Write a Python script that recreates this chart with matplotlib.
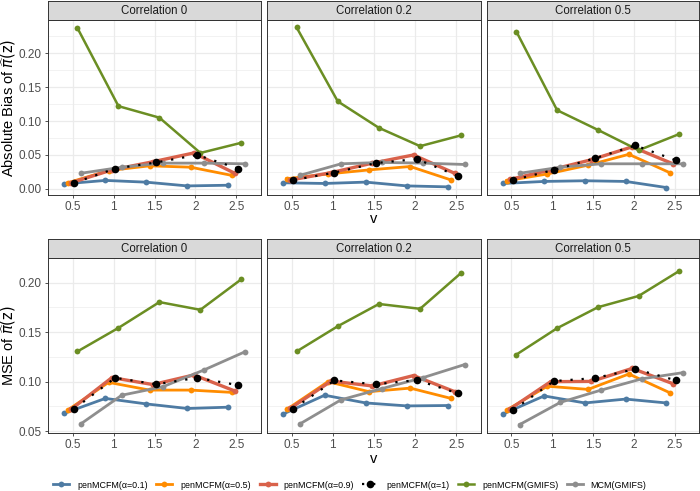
import matplotlib.pyplot as plt
from matplotlib.lines import Line2D
import numpy as np

plt.rcParams['font.family'] = ['Liberation Sans', 'DejaVu Sans']

# --- data ---
v_levels = [0.5, 1, 1.5, 2, 2.5]
v_labels = ["0.5", "1", "1.5", "2", "2.5"]
methods = ["penMCFM(α=0.1)", "penMCFM(α=0.5)", "penMCFM(α=0.9)",
           "penMCFM(α=1)", "penMCFM(GMIFS)", "MCM(GMIFS)"]
correlations = ["Correlation 0", "Correlation 0.2", "Correlation 0.5"]

# rows follow `methods`, columns follow `v_levels`
bias_corr0 = [
    [0.0074, 0.0125, 0.0099, 0.0044, 0.0054],
    [0.009, 0.027, 0.034, 0.032, 0.020],
    [0.009, 0.028, 0.040, 0.053, 0.023],
    [0.009, 0.030, 0.039, 0.050, 0.030],
    [0.237, 0.122, 0.105, 0.053, 0.068],
    [0.023, 0.032, 0.038, 0.038, 0.037],
]
bias_corr02 = [
    [0.009, 0.008, 0.010, 0.0044, 0.003],
    [0.015, 0.022, 0.028, 0.033, 0.013],
    [0.013, 0.024, 0.038, 0.050, 0.023],
    [0.013, 0.024, 0.038, 0.044, 0.019],
    [0.238, 0.129, 0.090, 0.063, 0.079],
    [0.020, 0.037, 0.039, 0.038, 0.036],
]
bias_corr05 = [
    [0.008, 0.011, 0.012, 0.011, 0.002],
    [0.012, 0.022, 0.035, 0.051, 0.024],
    [0.014, 0.028, 0.043, 0.062, 0.037],
    [0.013, 0.028, 0.045, 0.064, 0.042],
    [0.232, 0.116, 0.087, 0.057, 0.081],
    [0.023, 0.032, 0.037, 0.037, 0.037],
]
mse_corr0 = [
    [0.068, 0.083, 0.0774, 0.0728, 0.0741],
    [0.0712, 0.0992, 0.0914, 0.0914, 0.0891],
    [0.0718, 0.104, 0.097, 0.1067, 0.0905],
    [0.0725, 0.1038, 0.0973, 0.1038, 0.0964],
    [0.1305, 0.1543, 0.1804, 0.1726, 0.2035],
    [0.0572, 0.0862, 0.0947, 0.1116, 0.130],
]
mse_corr02 = [
    [0.0673, 0.0862, 0.0784, 0.0754, 0.0758],
    [0.0718, 0.0999, 0.0898, 0.0934, 0.0829],
    [0.0728, 0.1005, 0.0956, 0.1061, 0.0898],
    [0.0725, 0.1012, 0.0973, 0.1015, 0.0881],
    [0.1305, 0.156, 0.1785, 0.1736, 0.210],
    [0.0572, 0.0816, 0.093, 0.1041, 0.1172],
]
mse_corr05 = [
    [0.0673, 0.0855, 0.0784, 0.0823, 0.0784],
    [0.0712, 0.0953, 0.0921, 0.1077, 0.0888],
    [0.0722, 0.0999, 0.1002, 0.1133, 0.0979],
    [0.0712, 0.1005, 0.1035, 0.1126, 0.1012],
    [0.1273, 0.154, 0.1752, 0.1866, 0.212],
    [0.0565, 0.079, 0.0914, 0.1028, 0.109],
]

# --- style ---
colors = ["#4E7BA3", "#FF8C00", "#D9624B", "black", "#6B8E23", "#8E8E8E"]
dodge = [-0.1, -0.06, -0.02, 0.02, 0.06, 0.1]
lws = [2.0, 2.0, 2.4, 1.6, 1.8, 2.0]
W, H = 700, 491

fig = plt.figure(figsize=(W / 100, H / 100), dpi=100)


def px_axes(x0, y0, x1, y1):
    return fig.add_axes([x0 / W, 1 - y1 / H, (x1 - x0) / W, (y1 - y0) / H])


def draw_series(ax, data):
    x = np.array(v_levels)
    for i, vals in enumerate(data):
        if methods[i] == "penMCFM(α=1)":
            ax.plot(x + dodge[i], vals, color="black", lw=1.6, ls=(0, (1, 4)),
                    dash_capstyle="butt", zorder=4)
            ax.plot(x + dodge[i], vals, "o", color="black", ms=5.5, mew=0, zorder=4)
        else:
            ax.plot(x + dodge[i], vals, "-o", color=colors[i], lw=lws[i],
                    ms=4.2, mew=0, zorder=3)


def style_panel(ax, ylim, major, show_y):
    ax.set_xlim(0.2, 2.8)
    ax.set_ylim(*ylim)
    ax.set_xticks(v_levels)
    ax.set_xticklabels(v_labels)
    ax.set_yticks(major)
    step = major[1] - major[0]
    ax.set_yticks([m + step / 2 for m in major], minor=True)
    ax.grid(which="major", color="#EBEBEB", lw=0.9)
    ax.grid(which="minor", axis="y", color="#EBEBEB", lw=0.45)
    ax.set_axisbelow(True)
    ax.tick_params(which="major", length=2.5, width=0.6, color="#333333",
                   labelsize=8.5, labelcolor="#4D4D4D", pad=2)
    ax.tick_params(which="minor", length=0)
    if show_y:
        ax.set_yticklabels([f"{m:.2f}" for m in major])
    else:
        ax.set_yticklabels([])
        ax.tick_params(axis="y", which="major", length=0)
    for s in ax.spines.values():
        s.set_color("#333333")
        s.set_linewidth(0.7)


def strip(x0, x1, y0, y1, label):
    sa = px_axes(x0, y0, x1, y1)
    sa.set_facecolor("#D9D9D9")
    sa.set_xticks([])
    sa.set_yticks([])
    for s in sa.spines.values():
        s.set_color("#333333")
        s.set_linewidth(0.7)
    sa.text(0.5, 0.48, label, ha="center", va="center", fontsize=8.3,
            color="#1A1A1A", transform=sa.transAxes)


cols = [(48, 261), (267, 481), (487, 699)]
rows = [
    dict(strip=(1, 20), plot=(20, 195), data=[bias_corr0, bias_corr02, bias_corr05],
         ylim=(-0.009, 0.249), major=[0.0, 0.05, 0.10, 0.15, 0.20],
         ylabel=r"Absolute Bias of $\widehat{\pi}(\mathrm{z})$", vlab=219),
    dict(strip=(239, 258), plot=(258, 433), data=[mse_corr0, mse_corr02, mse_corr05],
         ylim=(0.048, 0.2205), major=[0.05, 0.10, 0.15, 0.20],
         ylabel=r"MSE of $\widehat{\pi}(\mathrm{z})$", vlab=459),
]

for r in rows:
    for j, (x0, x1) in enumerate(cols):
        ax = px_axes(x0, r["plot"][0], x1, r["plot"][1])
        draw_series(ax, r["data"][j])
        style_panel(ax, r["ylim"], r["major"], j == 0)
        strip(x0, x1, r["strip"][0], r["strip"][1], correlations[j])
    yc = (r["plot"][0] + r["plot"][1]) / 2
    fig.text(9 / W, 1 - yc / H, r["ylabel"], rotation=90, ha="center", va="center",
             fontsize=10.5)
    fig.text((cols[1][0] + cols[1][1]) / 2 / W, 1 - r["vlab"] / H, "v",
             ha="center", va="center", fontsize=10.5)

# --- legend ---
handles = []
for i, m in enumerate(methods):
    if m == "penMCFM(α=1)":
        h = Line2D([], [], color="black", lw=1.6, ls=(0, (1, 4)), marker="o",
                   ms=5.5, mew=0)
    else:
        h = Line2D([], [], color=colors[i], lw=lws[i], marker="o", ms=4.2, mew=0)
    handles.append(h)
fig.legend(handles, methods, loc="center", bbox_to_anchor=(0.5, 1 - 485 / H),
           ncol=6, frameon=False, fontsize=6.4, handlelength=1.8,
           columnspacing=0.95, handletextpad=0.9)

fig.savefig("out.png", dpi=100)
